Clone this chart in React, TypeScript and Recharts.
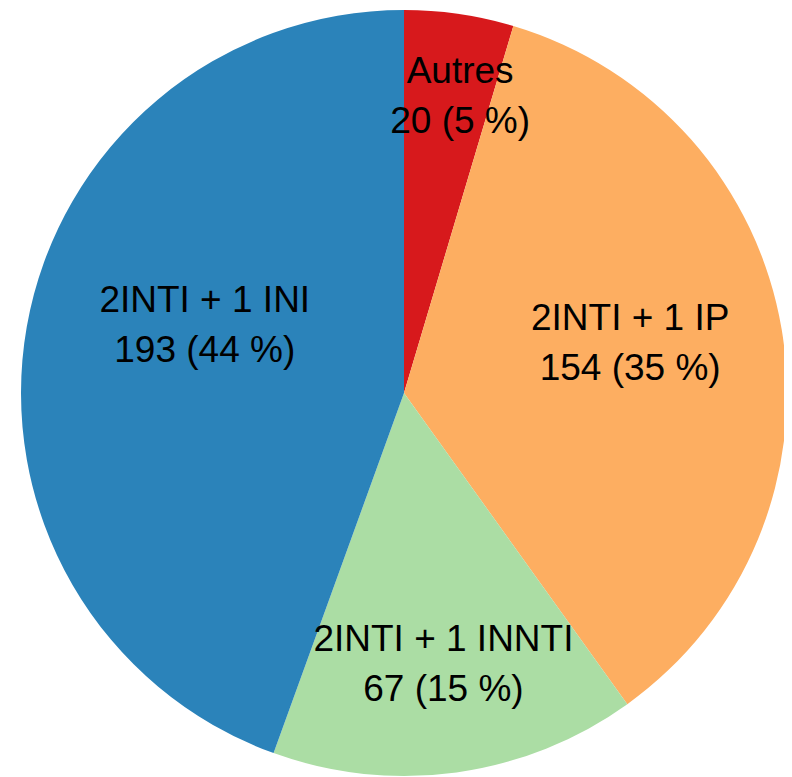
import React from "react";
import { PieChart, Pie, Cell } from "recharts";

const categories = ["Autres", "2INTI + 1 IP", "2INTI + 1 INNTI", "2INTI + 1 INI"];
const counts = [20, 154, 67, 193];
const colors = ["#d7191c", "#fdae61", "#abdda4", "#2b83ba"];

const data = categories.map((name, i) => ({ name, value: counts[i] }));
const total = counts.reduce((a, b) => a + b, 0);

const RAD = Math.PI / 180;
// label placement tweaks (radius factor, angle shift in degrees)
const labelRadius = [0.79, 0.605, 0.715, 0.55];
const labelShift = [-2.4, 3, 0.4, -9];

const renderLabel = (props: any) => {
  const { cx, cy, midAngle, outerRadius, index, value, name } = props;
  const r = outerRadius * labelRadius[index];
  const a = (midAngle + labelShift[index]) * RAD;
  const x = cx + r * Math.cos(-a);
  const y = cy + r * Math.sin(-a);
  const pct = Math.round((value / total) * 100);
  return (
    <text
      x={x}
      y={y}
      textAnchor="middle"
      fill="#000"
      fontFamily="'Liberation Sans', Arial, sans-serif"
      fontSize={37}
    >
      <tspan x={x} dy={-25} dominantBaseline="central">{name}</tspan>
      <tspan x={x} dy={50} dominantBaseline="central">{`${value} (${pct} %)`}</tspan>
    </text>
  );
};

export default function App() {
  return (
    <PieChart width={792} height={777} margin={{ top: 0, right: 0, bottom: 0, left: 0 }}>
      <Pie
        data={data}
        dataKey="value"
        nameKey="name"
        cx={396}
        cy={385}
        innerRadius={0}
        outerRadius={383}
        startAngle={90}
        endAngle={-270}
        stroke="none"
        label={renderLabel}
        labelLine={false}
        isAnimationActive={false}
      >
        {data.map((d, i) => (
          <Cell key={d.name} fill={colors[i]} />
        ))}
      </Pie>
    </PieChart>
  );
}
